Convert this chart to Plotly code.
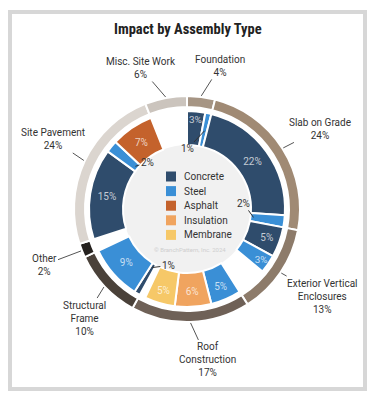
import math
import plotly.graph_objects as go

# ---------------- data ----------------
assemblies = ["Foundation", "Slab on Grade", "Exterior Vertical Enclosures", "Roof Construction",
              "Structural Frame", "Other", "Site Pavement", "Misc. Site Work"]
assembly_share = [4, 24, 13, 17, 10, 2, 24, 6]
assembly_labels = ["Foundation<br>4%", "Slab on Grade<br>24%", "Exterior Vertical<br>Enclosures<br>13%",
                   "Roof<br>Construction<br>17%", "Structural<br>Frame<br>10%", "Other<br>2%",
                   "Site Pavement<br>24%", "Misc. Site Work<br>6%"]

materials = ["Concrete", "Steel", "Asphalt", "Insulation", "Membrane"]

# inner ring: assembly, material (None = unattributed), share %
inner_assembly = ["Foundation", "Foundation", "Slab on Grade", "Slab on Grade",
                  "Exterior Vertical Enclosures", "Exterior Vertical Enclosures", "Exterior Vertical Enclosures",
                  "Roof Construction", "Roof Construction", "Roof Construction", "Roof Construction",
                  "Structural Frame", "Structural Frame", "Other",
                  "Site Pavement", "Site Pavement", "Site Pavement", "Misc. Site Work"]
inner_material = ["Concrete", "Steel", "Concrete", "Steel",
                  "Concrete", "Steel", None,
                  "Steel", "Insulation", "Membrane", None,
                  "Concrete", "Steel", None,
                  "Concrete", "Steel", "Asphalt", None]
inner_share = [3, 1, 22, 2,
               5, 3, 5,
               5, 6, 5, 1,
               1, 9, 2,
               15, 2, 7, 6]

# ---------------- style ----------------
PAGE_MARGIN = 8                      # default body margin of the html page
FW, FH = 375 - 2 * PAGE_MARGIN, 400 - 2 * PAGE_MARGIN
CX, CY = 187, 209                    # centre in screen pixels
R_OUT, R_OUT_IN = 113, 102
R_IN, R_HOLE = 98, 64

assembly_colors = ["#a69584", "#a08a74", "#8d7b6a", "#6f6157", "#4a4139", "#25211e", "#dbd5cf", "#cbc4bd"]
material_colors = {"Concrete": "#2f4c6c", "Steel": "#3a8fd6", "Asphalt": "#c4622c",
                   "Insulation": "#f0a45f", "Membrane": "#f6c868"}
FONT = "Roboto, Inter, sans-serif"


def px(x):
    return (x - PAGE_MARGIN) / FW


def py(y):
    return 1 - (y - PAGE_MARGIN) / FH


def dom(r):
    return dict(x=[px(CX - r), px(CX + r)], y=[py(CY + r), py(CY - r)])


def pt(frac, r):
    a = 2 * math.pi * frac
    return px(CX + r * math.sin(a)), py(CY - r * math.cos(a))


fig = go.Figure()

# light background disc in the hole
fig.add_trace(go.Pie(values=[1], labels=["bg"], domain=dom(R_HOLE), marker=dict(colors=["#f1f1f1"]),
                     textinfo="none", hoverinfo="skip", showlegend=False, sort=False))

# outer ring
fig.add_trace(go.Pie(values=assembly_share, labels=assemblies, domain=dom(R_OUT), hole=R_OUT_IN / R_OUT,
                     sort=False, direction="clockwise", rotation=0,
                     marker=dict(colors=assembly_colors, line=dict(color="white", width=2)),
                     textinfo="none", hoverinfo="skip", showlegend=False))

# inner ring
in_labels = [f"{a}|{m}|{i}" for i, (a, m) in enumerate(zip(inner_assembly, inner_material))]
in_colors = [material_colors[m] if m else "rgba(0,0,0,0)" for m in inner_material]
in_lw = [2 if m else 0 for m in inner_material]
in_text = [f"{v}%" if (m and v >= 3) else "" for v, m in zip(inner_share, inner_material)]
fig.add_trace(go.Pie(values=inner_share, labels=in_labels, domain=dom(R_IN), hole=R_HOLE / R_IN,
                     sort=False, direction="clockwise", rotation=0,
                     marker=dict(colors=in_colors, line=dict(color="white", width=in_lw)),
                     text=in_text, textinfo="text", textposition="inside",
                     insidetextorientation="horizontal",
                     insidetextfont=dict(family=FONT, size=10, color="rgba(255,255,255,0.72)"),
                     hoverinfo="skip", showlegend=False))

annotations = []
# outer labels with leader lines
offsets = [(19, -30), (37, -19), (41, 23), (17, 37), (-19, 31), (-37, 14), (-31, -21), (-25, -29)]
cum = 0
for lab, v, (ox, oy) in zip(assembly_labels, assembly_share, offsets):
    mid = (cum + v / 2) / 100
    cum += v
    x, y = pt(mid, R_OUT + 1)
    annotations.append(dict(x=x, y=y, xref="paper", yref="paper", text=lab, showarrow=True,
                            arrowhead=0, arrowwidth=1, arrowcolor="#555", ax=ox, ay=oy, standoff=0,
                            font=dict(family=FONT, size=10, color="#333")))

# small inner labels (1% / 2%) with leader lines
small_offsets = {1: (-17, 18, 80), 3: (-10, -14, 67), 11: (16, -2, 68), 15: (12, -4, 67)}
cum = 0
for i, (v, m) in enumerate(zip(inner_share, inner_material)):
    mid = (cum + v / 2) / 100
    cum += v
    if i in small_offsets:
        ox, oy, r = small_offsets[i]
        x, y = pt(mid, r)
        annotations.append(dict(x=x, y=y, xref="paper", yref="paper", text=f"{v}%", showarrow=True,
                                arrowhead=0, arrowwidth=1, arrowcolor="#333", ax=ox, ay=oy, standoff=0,
                                font=dict(family=FONT, size=10, color="#333")))

# frame
shapes = [dict(type="rect", xref="paper", yref="paper", x0=px(10), x1=px(365), y0=py(389), y1=py(12),
               line=dict(color="#d7d7d7", width=4), fillcolor="rgba(0,0,0,0)", layer="below")]
# legend inside the hole
for k, m in enumerate(materials):
    yc = 176.5 + 14.6 * k
    shapes.append(dict(type="rect", xref="paper", yref="paper", x0=px(166), x1=px(176),
                       y0=py(yc + 5), y1=py(yc - 5),
                       fillcolor=material_colors[m], line=dict(width=0)))
    annotations.append(dict(x=px(182), y=py(yc), xref="paper", yref="paper", text=m, showarrow=False,
                            xanchor="left", yanchor="middle",
                            font=dict(family=FONT, size=10, color="#333")))

annotations.append(dict(x=px(190), y=py(249), xref="paper", yref="paper",
                        text="© BranchPattern, Inc. 2024", showarrow=False,
                        font=dict(family=FONT, size=6, color="#cfcfcf")))
annotations.append(dict(x=px(188), y=py(29), xref="paper", yref="paper",
                        text="<b>Impact by Assembly Type</b>", showarrow=False,
                        xanchor="center", yanchor="middle",
                        font=dict(family="Liberation Sans Narrow, Roboto Condensed, Roboto, sans-serif",
                                  size=14.5, color="#222")))

fig.update_layout(width=FW, height=FH, margin=dict(l=0, r=0, t=0, b=0),
                  paper_bgcolor="white", plot_bgcolor="white",
                  annotations=annotations, shapes=shapes, showlegend=False)

fig.write_html("out.html")
